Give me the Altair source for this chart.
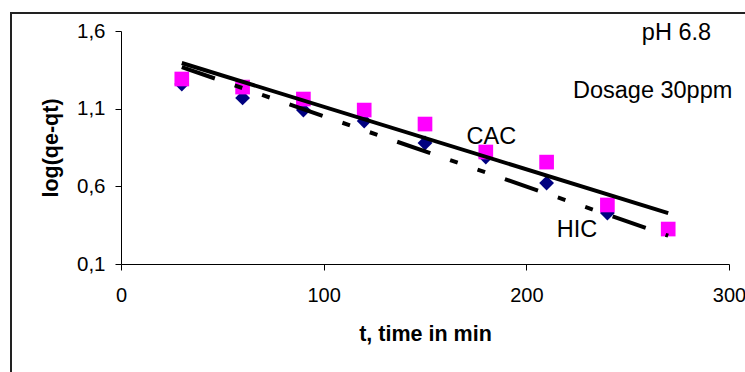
import altair as alt
import pandas as pd

# ---- data ----
t_hic = [30, 60, 90, 120, 150, 180, 210, 240]
hic = [1.259, 1.169, 1.091, 1.020, 0.879, 0.789, 0.621, 0.428]

t_cac = [30, 60, 90, 120, 150, 180, 210, 240, 270]
cac = [1.291, 1.239, 1.162, 1.091, 1.001, 0.821, 0.756, 0.480, 0.325]

# trend lines (endpoints)
trend_t = [30, 270]
trend_cac = [1.394, 0.428]
trend_hic = [1.368, 0.282]

x_ticks = [0, 100, 200, 300]
y_ticks = [0.1, 0.6, 1.1, 1.6]

notes = ["pH 6.8", "Dosage 30ppm", "CAC", "HIC"]
note_t = [257.0, 223.0, 170.5, 215.0]
note_y = [1.587, 1.214, 0.917, 0.319]

df_hic = pd.DataFrame({"t": t_hic, "v": hic})
df_cac = pd.DataFrame({"t": t_cac, "v": cac})
df_tc = pd.DataFrame({"t": trend_t, "v": trend_cac})
df_th = pd.DataFrame({"t": trend_t, "v": trend_hic})
df_notes = pd.DataFrame({"label": notes, "t": note_t, "v": note_y})

FONT = "Liberation Sans"

x_enc = alt.X(
    "t:Q",
    scale=alt.Scale(domain=[0, 300], nice=False, zero=False),
    axis=alt.Axis(
        values=x_ticks,
        title="t, time in min",
        grid=False,
        tickSize=6,
        labelPadding=15,
        titlePadding=18,
        labelFontSize=20,
        titleFontSize=21.5,
        titleFontWeight="bold",
        labelFont=FONT,
        titleFont=FONT,
        labelColor="black",
        titleColor="black",
        domainColor="black",
        tickColor="black",
        labelFlush=False,
    ),
)
y_enc = alt.Y(
    "v:Q",
    scale=alt.Scale(domain=[0.1, 1.6], nice=False, zero=False),
    axis=alt.Axis(
        values=y_ticks,
        labelExpr="replace(format(datum.value, '.1f'), '.', ',')",
        title="log(qe-qt)",
        grid=False,
        tickSize=6,
        labelPadding=10,
        titlePadding=14,
        labelFontSize=20.5,
        titleFontSize=21.5,
        titleFontWeight="bold",
        labelFont=FONT,
        titleFont=FONT,
        labelColor="black",
        titleColor="black",
        domainColor="black",
        tickColor="black",
        labelFlush=False,
    ),
)

diamonds = alt.Chart(df_hic).mark_point(
    shape="diamond", filled=True, size=220, color="#000080", opacity=1
).encode(x=x_enc, y=y_enc)

squares = alt.Chart(df_cac).mark_point(
    shape="square", filled=True, size=215, color="#FF00FF", opacity=1
).encode(x="t:Q", y="v:Q")

line_cac = alt.Chart(df_tc).mark_line(color="black", strokeWidth=4).encode(
    x="t:Q", y="v:Q"
)
line_hic = alt.Chart(df_th).mark_line(
    color="black", strokeWidth=4, strokeDash=[35, 21, 8, 21, 8, 21]
).encode(x="t:Q", y="v:Q")

text = alt.Chart(df_notes).mark_text(
    align="left", baseline="middle", fontSize=23.5, font=FONT, color="black"
).encode(x="t:Q", y="v:Q", text="label:N")

frame_src = alt.Data(values=[{"k": 1}])
frame_top = alt.Chart(frame_src).mark_rule(color="#222222", strokeWidth=2).encode(
    x=alt.value(-111), x2=alt.value(640), y=alt.value(-18)
)
frame_left = alt.Chart(frame_src).mark_rule(color="#222222", strokeWidth=2).encode(
    x=alt.value(-110), y=alt.value(-18), y2=alt.value(360)
)

chart = alt.layer(
    frame_top, frame_left, diamonds, squares, line_cac, line_hic, text
).properties(
    width=608,
    height=233,
    autosize=alt.AutoSizeParams(type="none"),
    padding={"left": 121, "top": 31, "right": 16, "bottom": 108},
    background="white",
).configure_view(stroke=None)

chart.save("out.html", embed_options={"renderer": "svg", "actions": False})
